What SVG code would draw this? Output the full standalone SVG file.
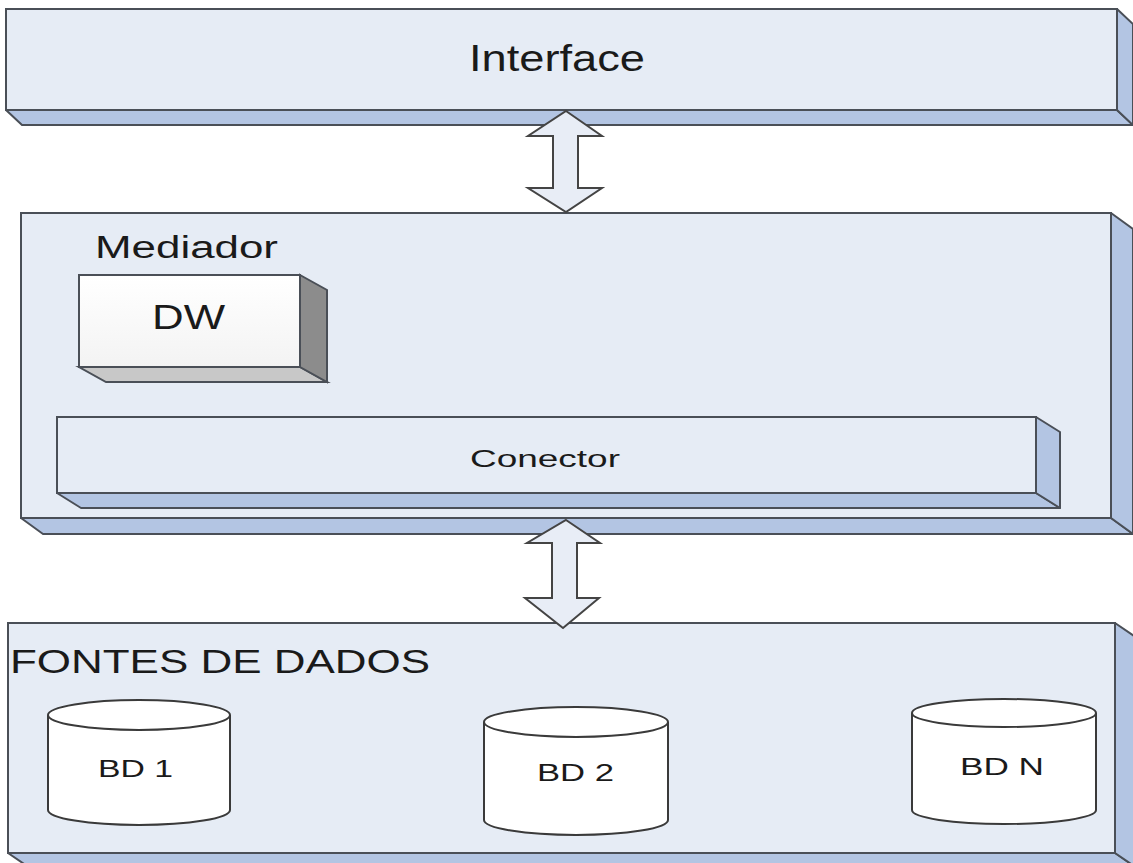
<svg xmlns="http://www.w3.org/2000/svg" width="1133" height="863" viewBox="0 0 1133 863">
<defs>
<style>
.front{fill:#e6ecf5;stroke:#4a4f57;stroke-width:2}
.side{fill:#b3c5e3;stroke:#4a4f57;stroke-width:2;stroke-linejoin:round}
.dwfront{fill:url(#dwg);stroke:#4a4f57;stroke-width:2}
.dwside{fill:#8c8c8c;stroke:#4a4f57;stroke-width:2}
.dwbottom{fill:#c8c8c8;stroke:#4a4f57;stroke-width:2}
.cyl{fill:#ffffff;stroke:#3a3a3a;stroke-width:2}
.arrow{fill:#e8edf6;stroke:#444;stroke-width:2;stroke-linejoin:miter}
text{font-family:"Liberation Sans",Arial,sans-serif;fill:#1a1a1a}
</style>
<linearGradient id="dwg" x1="0" y1="0" x2="0" y2="1">
<stop offset="0" stop-color="#ffffff"/>
<stop offset="1" stop-color="#f3f3f3"/>
</linearGradient>
</defs>
<rect x="0" y="0" width="1133" height="863" fill="#ffffff"/>

<g id="interface">
<polygon class="side" points="6,110 1117,110 1133,125 22,125"/>
<polygon class="side" points="1117,9 1133,24 1133,125 1117,110"/>
<rect class="front" x="6" y="9" width="1111" height="101"/>
<text x="469" y="71" font-size="37" textLength="176" lengthAdjust="spacingAndGlyphs">Interface</text>
</g>

<g id="mediador">
<polygon class="side" points="21,518 1111,518 1133,534 43,534"/>
<polygon class="side" points="1111,213 1133,229 1133,534 1111,518"/>
<rect class="front" x="21" y="213" width="1090" height="305"/>
<text x="95" y="258" font-size="31" textLength="183" lengthAdjust="spacingAndGlyphs">Mediador</text>
</g>

<g id="dw">
<polygon class="dwbottom" points="79,367 300,367 327,382 106,382"/>
<polygon class="dwside" points="300,275 327,290 327,382 300,367"/>
<rect class="dwfront" x="79" y="275" width="221" height="92"/>
<text x="152" y="329" font-size="35" textLength="73" lengthAdjust="spacingAndGlyphs">DW</text>
</g>

<g id="conector">
<polygon class="side" points="57,493 1036,493 1060,508 81,508"/>
<polygon class="side" points="1036,417 1060,432 1060,508 1036,493"/>
<rect class="front" x="57" y="417" width="979" height="76"/>
<text x="470" y="467" font-size="24" textLength="150" lengthAdjust="spacingAndGlyphs">Conector</text>
</g>

<g id="fontes">
<polygon class="side" points="8,853 1115,853 1137,868 30,868"/>
<polygon class="side" points="1115,623 1137,638 1137,868 1115,853"/>
<rect class="front" x="8" y="623" width="1107" height="230"/>
<text x="10" y="673" font-size="33" textLength="420" lengthAdjust="spacingAndGlyphs">FONTES DE DADOS</text>
</g>

<g id="bd1">
<path class="cyl" d="M48,715 L48,810 A91,15 0 0 0 230,810 L230,715"/>
<ellipse class="cyl" cx="139" cy="715" rx="91" ry="15"/>
<text x="98" y="777" font-size="24" textLength="75" lengthAdjust="spacingAndGlyphs">BD 1</text>
</g>

<g id="bd2">
<path class="cyl" d="M484,722 L484,820 A92,15 0 0 0 668,820 L668,722"/>
<ellipse class="cyl" cx="576" cy="722" rx="92" ry="15"/>
<text x="537" y="781" font-size="24" textLength="77" lengthAdjust="spacingAndGlyphs">BD 2</text>
</g>

<g id="bdn">
<path class="cyl" d="M912,713 L912,810 A92,14 0 0 0 1096,810 L1096,713"/>
<ellipse class="cyl" cx="1004" cy="713" rx="92" ry="14"/>
<text x="960" y="775" font-size="24" textLength="84" lengthAdjust="spacingAndGlyphs">BD N</text>
</g>

<g id="connectors">
<polygon class="arrow" points="566,111 602,136 578,136 578,188 602,188 566,212 528,188 553,188 553,136 528,136"/>
<polygon class="arrow" points="566,520 600,543 577,543 577,598 599,598 563,628 525,598 552,598 552,543 527,543"/>
</g>
</svg>
